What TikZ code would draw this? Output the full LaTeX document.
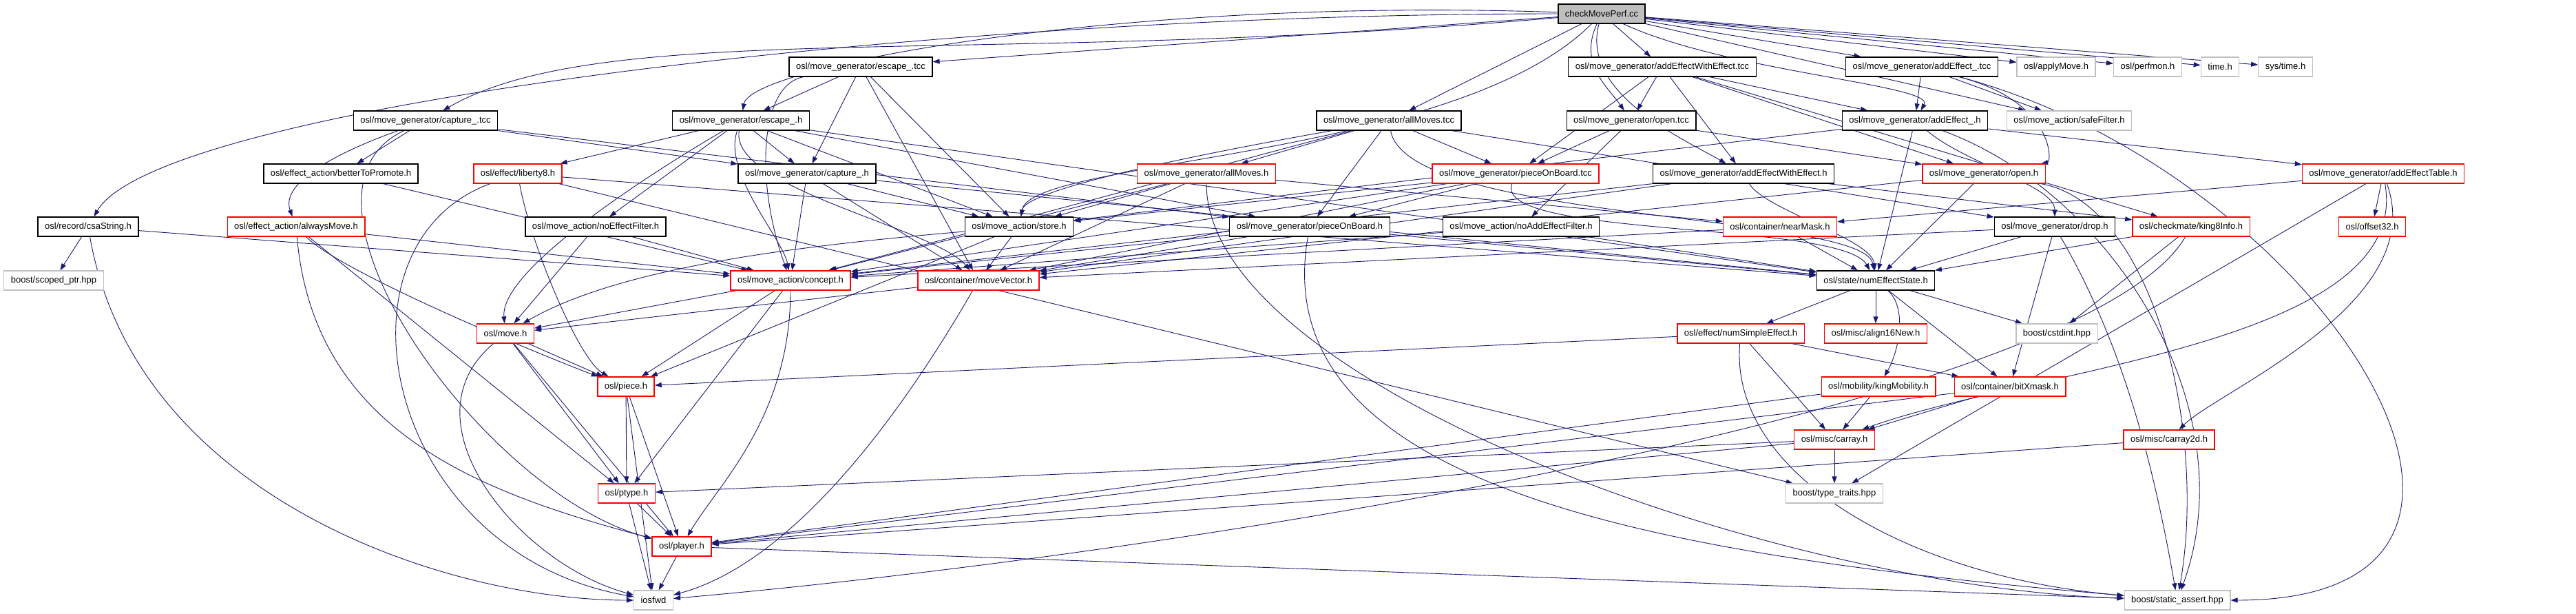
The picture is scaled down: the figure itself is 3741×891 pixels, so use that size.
\documentclass[tikz,border=0pt]{standalone}
\usepackage{fontspec}
\setmainfont{Liberation Sans}
\usepackage{tikz}
\usetikzlibrary{arrows.meta}
\definecolor{edgeblue}{RGB}{25,25,112}
\definecolor{boxgrey}{RGB}{191,191,191}
\pgfdeclarelayer{bg}
\pgfsetlayers{bg,main}

\begin{document}
\begin{tikzpicture}[x=1pt,y=-1pt,
		box/.style={draw=black,line width=1.3pt,fill=white,inner xsep=10pt,inner ysep=0pt,minimum height=28pt,font=\fontsize{13}{15}\selectfont},
		rbox/.style={box,draw=red},
		gbox/.style={box,draw=boxgrey},
		e/.style={draw=edgeblue,line width=0.9pt,-{Triangle[length=10pt,width=7pt]}}]
			\useasboundingbox (0,0) rectangle (3741,891);
			\node[box,fill=boxgrey] (root) at (2326,20) {checkMovePerf.cc};
			\node[box] (esctcc) at (1250,97) {osl/move\_generator/escape\_.tcc};
			\node[box] (aewetcc) at (2414,97) {osl/move\_generator/addEffectWithEffect.tcc};
			\node[box] (aetcc) at (2791,97) {osl/move\_generator/addEffect\_.tcc};
			\node[gbox] (applymove) at (2986,97) {osl/applyMove.h};
			\node[gbox] (perfmon) at (3119,97) {osl/perfmon.h};
			\node[gbox] (timeh) at (3224,97) {time.h};
			\node[gbox] (systime) at (3319,97) {sys/time.h};
			\node[box] (captcc) at (618,175) {osl/move\_generator/capture\_.tcc};
			\node[box] (esch) at (1076,175) {osl/move\_generator/escape\_.h};
			\node[box] (amtcc) at (2017,175) {osl/move\_generator/allMoves.tcc};
			\node[box] (opentcc) at (2369,175) {osl/move\_generator/open.tcc};
			\node[box] (aeh) at (2781,175) {osl/move\_generator/addEffect\_.h};
			\node[gbox] (safefilter) at (3005,175) {osl/move\_action/safeFilter.h};
			\node[box] (better) at (495,252) {osl/effect\_action/betterToPromote.h};
			\node[rbox] (liberty) at (752,252) {osl/effect/liberty8.h};
			\node[box] (caph) at (1172,252) {osl/move\_generator/capture\_.h};
			\node[rbox] (amh) at (1752,252) {osl/move\_generator/allMoves.h};
			\node[rbox] (pobtcc) at (2201,252) {osl/move\_generator/pieceOnBoard.tcc};
			\node[box] (aeweh) at (2532,252) {osl/move\_generator/addEffectWithEffect.h};
			\node[rbox] (openh) at (2881,252) {osl/move\_generator/open.h};
			\node[rbox] (aetable) at (3461,252) {osl/move\_generator/addEffectTable.h};
			\node[box] (csa) at (128,329) {osl/record/csaString.h};
			\node[rbox] (always) at (430,329) {osl/effect\_action/alwaysMove.h};
			\node[box] (noeff) at (865,329) {osl/move\_action/noEffectFilter.h};
			\node[box] (store) at (1480,329) {osl/move\_action/store.h};
			\node[box] (pobh) at (1902,329) {osl/move\_generator/pieceOnBoard.h};
			\node[box] (noadd) at (2209,329) {osl/move\_action/noAddEffectFilter.h};
			\node[rbox] (nearmask) at (2585,329) {osl/container/nearMask.h};
			\node[box] (drop) at (2984,329) {osl/move\_generator/drop.h};
			\node[rbox] (king8) at (3182,329) {osl/checkmate/king8Info.h};
			\node[rbox] (offset32) at (3445,329) {osl/offset32.h};
			\node[gbox] (scoped) at (78,407) {boost/scoped\_ptr.hpp};
			\node[rbox] (concept) at (1148,407) {osl/move\_action/concept.h};
			\node[rbox] (movevec) at (1421,407) {osl/container/moveVector.h};
			\node[box] (nes) at (2724,407) {osl/state/numEffectState.h};
			\node[rbox] (move) at (734,484) {osl/move.h};
			\node[rbox] (nse) at (2528,484) {osl/effect/numSimpleEffect.h};
			\node[rbox] (align) at (2724,484) {osl/misc/align16New.h};
			\node[gbox] (cstdint) at (2987,484) {boost/cstdint.hpp};
			\node[rbox] (piece) at (909,561) {osl/piece.h};
			\node[rbox] (kingmob) at (2728,561) {osl/mobility/kingMobility.h};
			\node[rbox] (bitx) at (2919,561) {osl/container/bitXmask.h};
			\node[rbox] (carray) at (2664,638) {osl/misc/carray.h};
			\node[rbox] (carray2d) at (3150,638) {osl/misc/carray2d.h};
			\node[rbox] (ptype) at (910,716) {osl/ptype.h};
			\node[gbox] (typetraits) at (2664,716) {boost/type\_traits.hpp};
			\node[rbox] (player) at (990,793) {osl/player.h};
			\node[gbox] (iosfwd) at (949,871) {iosfwd};
			\node[gbox] (static) at (3162,871) {boost/static\_assert.hpp};
			\begin{pgfonlayer}{bg}
			\draw[e] (root) .. controls +(180:1000pt) and +(60:200pt) .. (csa);
			\draw[e] (root) .. controls +(185:900pt) and +(30:300pt) .. (captcc);
			\draw[e] (root) -- (esctcc);
			\draw[e] (root) .. controls +(178:700pt) and +(80:80pt) .. (esch);
			\draw[e] (root) -- (amtcc);
			\draw[e] (root) .. controls +(-115:80pt) and +(125:60pt) .. (opentcc);
			\draw[e] (root) -- (aewetcc);
			\draw[e] (root) .. controls +(-105:120pt) and +(150:100pt) .. (aeweh);
			\draw[e] (root) -- (aetcc);
			\draw[e] (root) .. controls +(-25:200pt) and +(60:60pt) .. (aeh);
			\draw[e] (root) -- (safefilter);
			\draw[e] (root) -- (applymove);
			\draw[e] (root) -- (perfmon);
			\draw[e] (root) -- (timeh);
			\draw[e] (root) -- (systime);
			\draw[e] (root) .. controls +(-135:300pt) and +(80:100pt) .. (store);
			\draw[e] (esctcc) -- (esch);
			\draw[e] (esctcc) -- (caph);
			\draw[e] (esctcc) -- (store);
			\draw[e] (esctcc) .. controls +(190:150pt) and +(110:150pt) .. (concept);
			\draw[e] (esctcc) -- (movevec);
			\draw[e] (captcc) -- (caph);
			\draw[e] (captcc) -- (better);
			\draw[e] (captcc) .. controls +(200:80pt) and +(110:80pt) .. (always);
			\draw[e] (captcc) -- (pobh);
			\draw[e] (captcc) .. controls +(205:250pt) and +(165:300pt) .. (player);
			\draw[e] (esch) -- (caph);
			\draw[e] (esch) -- (liberty);
			\draw[e] (esch) -- (noeff);
			\draw[e] (esch) -- (store);
			\draw[e] (esch) .. controls +(-110:80pt) and +(100:60pt) .. (concept);
			\draw[e] (esch) .. controls +(-100:100pt) and +(130:100pt) .. (movevec);
			\draw[e] (esch) -- (pobh);
			\draw[e] (esch) .. controls +(-150:100pt) and +(95:100pt) .. (move);
			\draw[e] (esch) -- (nes);
			\draw[e] (amtcc) -- (amh);
			\draw[e] (amtcc) -- (pobtcc);
			\draw[e] (amtcc) -- (pobh);
			\draw[e] (amtcc) .. controls +(190:200pt) and +(80:60pt) .. (store);
			\draw[e] (amtcc) -- (concept);
			\draw[e] (amtcc) .. controls +(-80:150pt) and +(100:100pt) .. (nes);
			\draw[e] (amtcc) -- (drop);
			\draw[e] (opentcc) -- (pobtcc);
			\draw[e] (opentcc) -- (openh);
			\draw[e] (opentcc) -- (noadd);
			\draw[e] (aewetcc) -- (opentcc);
			\draw[e] (aewetcc) -- (pobtcc);
			\draw[e] (aewetcc) -- (aeweh);
			\draw[e] (aewetcc) -- (openh);
			\draw[e] (aewetcc) -- (aeh);
			\draw[e] (aewetcc) -- (king8);
			\draw[e] (aetcc) -- (aeh);
			\draw[e] (aetcc) -- (safefilter);
			\draw[e] (aetcc) .. controls +(-15:200pt) and +(10:100pt) .. (openh);
			\draw[e] (aetcc) .. controls +(-15:600pt) and +(0:600pt) .. (static);
			\draw[e] (aeh) -- (store);
			\draw[e] (aeh) -- (aetable);
			\draw[e] (aeh) .. controls +(-40:100pt) and +(90:60pt) .. (drop);
			\draw[e] (aeh) -- (nes);
			\draw[e] (aeh) .. controls +(-20:300pt) and +(70:300pt) .. (static);
			\draw[e] (better) -- (concept);
			\draw[e] (liberty) -- (nes);
			\draw[e] (liberty) .. controls +(-80:100pt) and +(150:80pt) .. (piece);
			\draw[e] (liberty) .. controls +(200:300pt) and +(170:400pt) .. (iosfwd);
			\draw[e] (liberty) -- (typetraits);
			\draw[e] (caph) -- (store);
			\draw[e] (caph) -- (concept);
			\draw[e] (caph) -- (movevec);
			\draw[e] (caph) -- (nes);
			\draw[e] (amh) -- (store);
			\draw[e] (amh) -- (concept);
			\draw[e] (amh) -- (movevec);
			\draw[e] (amh) -- (nearmask);
			\draw[e] (amh) .. controls +(-90:300pt) and +(178:600pt) .. (static);
			\draw[e] (pobtcc) -- (pobh);
			\draw[e] (pobtcc) -- (store);
			\draw[e] (pobtcc) -- (concept);
			\draw[e] (pobtcc) -- (movevec);
			\draw[e] (pobtcc) .. controls +(-110:100pt) and +(120:100pt) .. (nes);
			\draw[e] (aeweh) -- (concept);
			\draw[e] (aeweh) -- (movevec);
			\draw[e] (aeweh) .. controls +(-60:60pt) and +(95:60pt) .. (nes);
			\draw[e] (aeweh) -- (king8);
			\draw[e] (openh) -- (nes);
			\draw[e] (openh) -- (movevec);
			\draw[e] (openh) .. controls +(-10:250pt) and +(80:250pt) .. (static);
			\draw[e] (aetable) -- (nearmask);
			\draw[e] (aetable) -- (offset32);
			\draw[e] (aetable) .. controls +(-80:250pt) and +(20:300pt) .. (carray);
			\draw[e] (aetable) -- (typetraits);
			\draw[e] (aetable) .. controls +(-70:200pt) and +(45:100pt) .. (carray2d);
			\draw[e] (csa) -- (scoped);
			\draw[e] (csa) -- (concept);
			\draw[e] (csa) .. controls +(-80:400pt) and +(180:300pt) .. (iosfwd);
			\draw[e] (always) -- (concept);
			\draw[e] (always) .. controls +(-45:100pt) and +(160:100pt) .. (piece);
			\draw[e] (always) -- (ptype);
			\draw[e] (always) .. controls +(-85:300pt) and +(165:300pt) .. (player);
			\draw[e] (noeff) -- (concept);
			\draw[e] (noeff) -- (move);
			\draw[e] (store) -- (movevec);
			\draw[e] (store) .. controls +(185:300pt) and +(30:200pt) .. (move);
			\draw[e] (store) -- (piece);
			\draw[e] (pobh) -- (concept);
			\draw[e] (pobh) -- (movevec);
			\draw[e] (pobh) -- (nes);
			\draw[e] (pobh) .. controls +(-100:400pt) and +(175:700pt) .. (static);
			\draw[e] (noadd) -- (concept);
			\draw[e] (noadd) -- (nes);
			\draw[e] (nearmask) -- (concept);
			\draw[e] (nearmask) -- (nes);
			\draw[e] (drop) -- (movevec);
			\draw[e] (drop) -- (nes);
			\draw[e] (drop) -- (bitx);
			\draw[e] (drop) .. controls +(-60:200pt) and +(100:200pt) .. (static);
			\draw[e] (king8) -- (nes);
			\draw[e] (king8) -- (cstdint);
			\draw[e] (king8) .. controls +(-120:300pt) and +(5:800pt) .. (iosfwd);
			\draw[e] (concept) -- (move);
			\draw[e] (concept) -- (piece);
			\draw[e] (concept) -- (ptype);
			\draw[e] (concept) .. controls +(-90:200pt) and +(60:100pt) .. (player);
			\draw[e] (movevec) -- (move);
			\draw[e] (movevec) .. controls +(-120:250pt) and +(15:200pt) .. (iosfwd);
			\draw[e] (nes) -- (nse);
			\draw[e] (nes) -- (align);
			\draw[e] (nes) -- (cstdint);
			\draw[e] (nes) .. controls +(-40:60pt) and +(60:60pt) .. (kingmob);
			\draw[e] (nes) -- (bitx);
			\draw[e] (move) -- (piece);
			\draw[e] (move) -- (ptype);
			\draw[e] (move) -- (player);
			\draw[e] (move) .. controls +(-140:200pt) and +(165:200pt) .. (iosfwd);
			\draw[e] (nse) -- (piece);
			\draw[e] (nse) -- (carray);
			\draw[e] (nse) -- (bitx);
			\draw[e] (nse) .. controls +(-95:200pt) and +(175:400pt) .. (static);
			\draw[e] (kingmob) -- (carray);
			\draw[e] (kingmob) -- (player);
			\draw[e] (bitx) -- (carray);
			\draw[e] (bitx) -- (player);
			\draw[e] (piece) -- (ptype);
			\draw[e] (piece) -- (player);
			\draw[e] (piece) -- (iosfwd);
			\draw[e] (carray) -- (typetraits);
			\draw[e] (carray) -- (ptype);
			\draw[e] (carray) -- (player);
			\draw[e] (carray2d) -- (player);
			\draw[e] (ptype) -- (player);
			\draw[e] (ptype) -- (iosfwd);
			\draw[e] (player) -- (iosfwd);
			\draw[e] (player) -- (static);
			\end{pgfonlayer}
		\end{tikzpicture}
\end{document}
